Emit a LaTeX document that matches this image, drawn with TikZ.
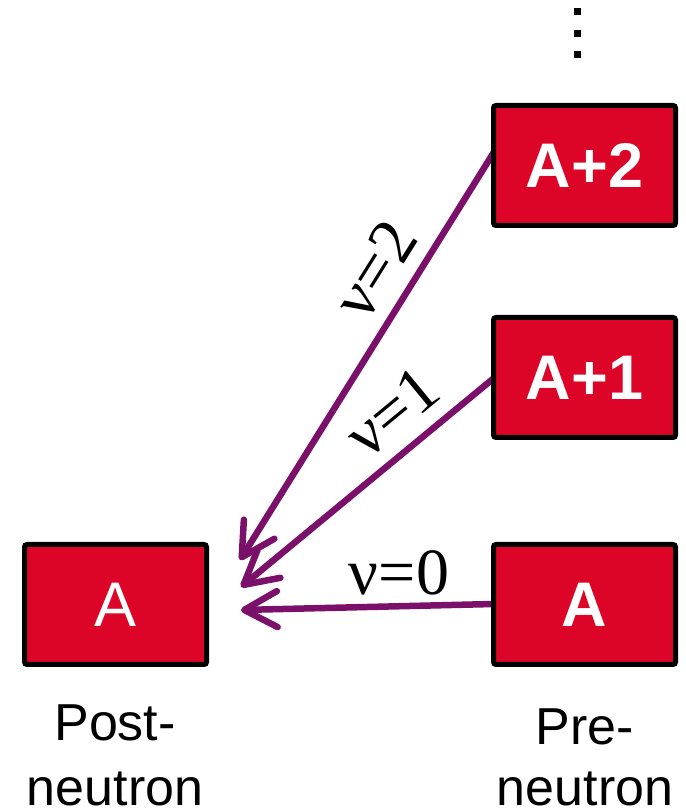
\documentclass[tikz,border=0pt]{standalone}
\usepackage{fontspec}
\setmainfont{Liberation Sans}
\newfontfamily\greekserif{Liberation Serif}
\usetikzlibrary{arrows.meta}

\definecolor{nucred}{RGB}{220,5,40}
\definecolor{decaypurple}{RGB}{122,16,105}

\tikzset{
  nucbox/.style={draw=black, line width=5pt, fill=nucred, rounded corners=2.5pt,
    minimum width=182pt, minimum height=120pt, inner sep=0pt, text=white,
    font=\fontsize{63}{63}\selectfont},
  nucboxbold/.style={nucbox, font=\fontsize{63}{63}\selectfont\bfseries},
  emission/.style={draw=decaypurple, line width=6.5pt, line cap=round,
    -{Straight Barb[length=33pt, width=36pt, round]}},
  nulabel/.style={font=\greekserif\fontsize{66}{66}\selectfont, inner sep=0pt},
  caption/.style={font=\fontsize{52}{65}\selectfont, align=center, inner sep=0pt},
  vdot/.style={fill=black, minimum size=7pt, inner sep=0pt}
}

\begin{document}
\begin{tikzpicture}[x=1pt, y=1pt]
  \useasboundingbox (0,0) rectangle (685,810);

  % arrow end points beside the product nucleus
  \coordinate (tip0) at (241,200);
  \coordinate (tip1) at (241,223);
  \coordinate (tip2) at (240,250);

  % emission paths (drawn first, the boxes cover their start)
  \coordinate (src2) at (494,658);
  \coordinate (src1) at (494,432);
  \coordinate (src0) at (494,206);

  \draw[emission] (src2) -- (tip2);
  \draw[emission] (src1) -- (tip1);
  \draw[emission] (src0) -- (tip0);

  % nuclei
  \node[nucbox]     (post) at (115.5,205.5) {A};
  \node[nucboxbold] (pre0) at (584.5,205.5) {A};
  \node[nucboxbold] (pre1) at (584.5,432.5) {A+1};
  \node[nucboxbold] (pre2) at (584.5,644.5) {A+2};

  % multiplicity labels
  \node[nulabel, rotate=58]   (nu2) at (375,540) {ν=2};
  \node[nulabel, rotate=39.5] (nu1) at (392,398) {ν=1};
  \node[nulabel, anchor=base] (nu0) at (399,215) {ν=0};

  % continuation dots above the top nucleus
  \node[vdot] (dotA) at (577,798) {};
  \node[vdot] (dotB) at (577,776) {};
  \node[vdot] (dotC) at (577,755) {};

  % column captions
  \node[caption, anchor=base] (postcap) at (115,5) {Post-\\neutron};
  \node[caption, anchor=base] (precap)  at (585,5) {Pre-\\[-5pt]neutron};
\end{tikzpicture}
\end{document}
